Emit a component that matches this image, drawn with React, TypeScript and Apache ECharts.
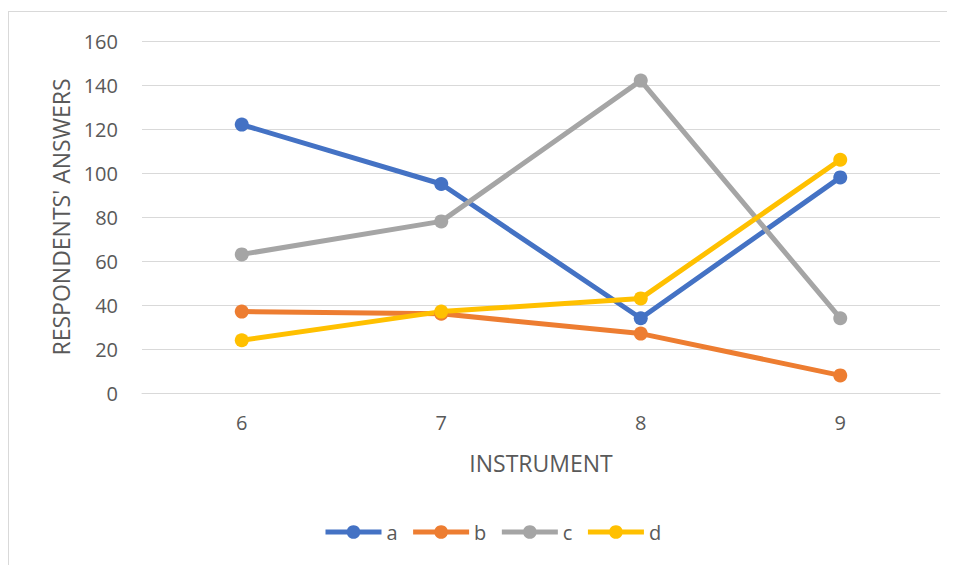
import React, { useEffect, useRef } from "react";
import * as echarts from "echarts";

const categories = ["6", "7", "8", "9"];
const seriesNames = ["a", "b", "c", "d"];
const seriesA = [122, 95, 34, 98];
const seriesB = [37, 36, 27, 8];
const seriesC = [63, 78, 142, 34];
const seriesD = [24, 37, 43, 106];
const colors = ["#4472C4", "#ED7D31", "#A5A5A5", "#FFC000"];

export default function App() {
  const ref = useRef<HTMLDivElement>(null);
  useEffect(() => {
    if (!ref.current) return;
    const chart = echarts.init(ref.current, undefined, { renderer: "svg" });
    const data = [seriesA, seriesB, seriesC, seriesD];
    const font = "'Open Sans', 'Noto Sans', sans-serif";
    chart.setOption({
      animation: false,
      color: colors,
      grid: { left: 133, width: 798, top: 29, height: 352, containLabel: false },
      xAxis: {
        type: "category",
        data: categories,
        boundaryGap: true,
        axisLine: { show: true, lineStyle: { color: "#d9d9d9", width: 1 } },
        axisTick: { show: false },
        axisLabel: { color: "#595959", fontSize: 20, fontFamily: font, margin: 19 },
        name: "INSTRUMENT",
        nameLocation: "middle",
        nameGap: 58,
        nameTextStyle: { color: "#595959", fontSize: 23, fontFamily: font },
      },
      yAxis: {
        type: "value",
        min: 0,
        max: 160,
        interval: 20,
        axisLine: { show: false },
        axisTick: { show: false },
        splitLine: { lineStyle: { color: "#d9d9d9", width: 1 } },
        axisLabel: { color: "#595959", fontSize: 20, fontFamily: font, margin: 24 },
        name: "RESPONDENTS' ANSWERS",
        nameLocation: "middle",
        nameGap: 70,
        nameRotate: 90,
        nameTextStyle: { color: "#595959", fontSize: 23, fontFamily: font },
      },
      legend: {
        top: 505,
        left: 309,
        itemWidth: 56,
        itemHeight: 17,
        itemGap: 13,
        lineStyle: { width: 5 },
        textStyle: { color: "#595959", fontSize: 20, fontFamily: font },
        data: seriesNames,
      },
      series: seriesNames.map((n, i) => ({
        name: n,
        type: "line",
        data: data[i],
        symbol: "circle",
        symbolSize: 14,
        lineStyle: { width: 5, color: colors[i] },
        itemStyle: { color: colors[i] },
      })),
    });
    return () => chart.dispose();
  }, []);
  return (
    <div
      ref={ref}
      style={{
        width: 944,
        height: 560,
        marginTop: 3,
        border: "1px solid #d9d9d9",
        boxSizing: "border-box",
        background: "#fff",
      }}
    />
  );
}
